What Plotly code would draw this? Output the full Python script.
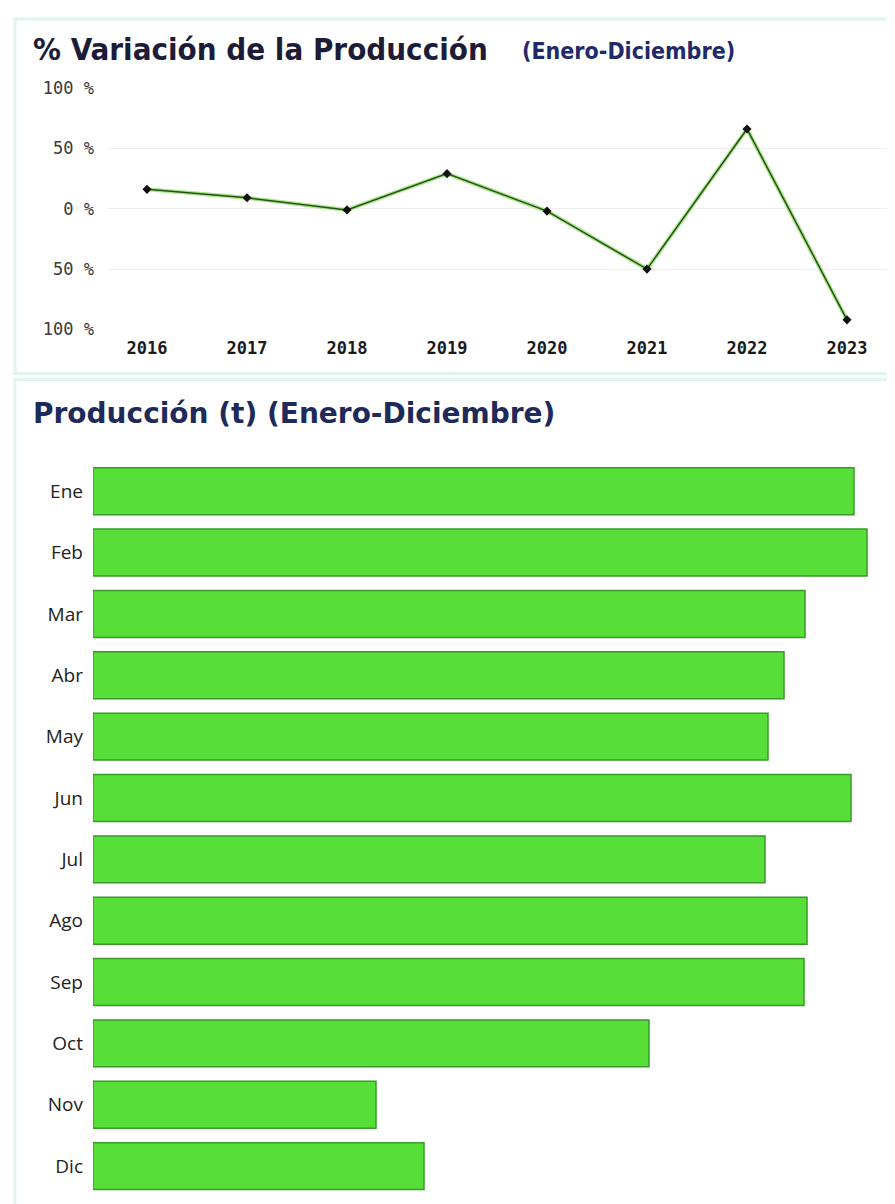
import plotly.graph_objects as go

# ---- data ----
years = ["2016", "2017", "2018", "2019", "2020", "2021", "2022", "2023"]
variation_pct = [16, 9, -1, 29, -2, -50, 66, -92]
y_tick_vals = [100, 50, 0, -50, -100]
y_tick_text = ["100 %", "50 %", "0 %", "50 %", "100 %"]

months = ["Ene", "Feb", "Mar", "Abr", "May", "Jun", "Jul", "Ago", "Sep", "Oct", "Nov", "Dic"]
production_t = [7610, 7740, 7120, 6910, 6750, 7580, 6720, 7140, 7110, 5560, 2830, 3310]

# page placement of the figure (measured): screen_x = 8 + fx ; screen_y = 16 + 0.985 * fy
OFFX = 8
CY, SY = 16.0, 0.985
W, H = 895 - 2 * OFFX, 1206
def px(x): return (x - OFFX) / W
def py(y): return 1 - ((y - CY) / SY) / H

fig = go.Figure()

# Line chart (top)
fig.add_trace(go.Scatter(
    x=years, y=variation_pct, mode="lines", xaxis="x", yaxis="y",
    line=dict(color="#a6e884", width=4), hoverinfo="skip", showlegend=False))
fig.add_trace(go.Scatter(
    x=years, y=variation_pct, mode="lines+markers", xaxis="x", yaxis="y",
    line=dict(color="#2a4f1e", width=1.5),
    marker=dict(symbol="diamond", size=7, color="#111111"),
    showlegend=False))

# Bar chart (bottom)
fig.add_trace(go.Bar(
    x=production_t, y=months, orientation="h", xaxis="x2", yaxis="y2",
    marker=dict(color="#57de38", line=dict(color="#3a9a28", width=1.5)),
    showlegend=False))

# bottom bar axis: category pitch 61.45 px on screen, Ene centred at y=490
pitch = 61.45
screen_bottom = CY + SY * H
cat_bottom = (screen_bottom - 490) / pitch
top_px = 490 - 0.5 * pitch

fig.update_layout(
    width=W, height=H,
    margin=dict(l=0, r=0, t=0, b=0),
    paper_bgcolor="white", plot_bgcolor="white",
    bargap=0.235,
    xaxis=dict(domain=[px(107), px(887)], type="category", range=[-0.4, 7.4],
               showgrid=False, zeroline=False, showline=False, ticks="",
               ticklabelstandoff=7,
               tickfont=dict(family="DejaVu Sans Mono", size=17, color="#1a1a1a", weight="bold"),
               anchor="y"),
    yaxis=dict(domain=[py(328), py(86)], range=[-100, 100],
               tickvals=y_tick_vals, ticktext=y_tick_text,
               showgrid=True, gridcolor="#eeeeee", gridwidth=1, zeroline=False,
               ticklabelstandoff=12,
               tickfont=dict(family="DejaVu Sans Mono", size=17, color="#3a3a3a"),
               anchor="x"),
    xaxis2=dict(domain=[px(93), px(880)], range=[0, 7870], visible=False, anchor="y2"),
    yaxis2=dict(domain=[0, py(top_px)], range=[cat_bottom, -0.5], type="category",
                showgrid=False, zeroline=False, showline=False, ticks="",
                ticklabelstandoff=9,
                tickfont=dict(family="Open Sans", size=19, color="#222222"),
                anchor="x2"),
    shapes=[
        dict(type="rect", xref="paper", yref="paper", x0=px(15), x1=px(890), y0=py(372), y1=py(17),
             line=dict(color="#dff5ec", width=3), fillcolor="rgba(0,0,0,0)", layer="below"),
        dict(type="rect", xref="paper", yref="paper", x0=px(15), x1=px(893), y0=py(1240), y1=py(378),
             line=dict(color="#dff5ec", width=3), fillcolor="rgba(0,0,0,0)", layer="below"),
    ],
    annotations=[
        dict(text="<b>% Variación de la Producción</b>", xref="paper", yref="paper",
             x=px(31), y=py(47), xanchor="left", yanchor="middle", showarrow=False,
             font=dict(family="DejaVu Sans Condensed", size=31, color="#1c1c38")),
        dict(text="<b>(Enero-Diciembre)</b>", xref="paper", yref="paper",
             x=px(520), y=py(49), xanchor="left", yanchor="middle", showarrow=False,
             font=dict(family="DejaVu Sans Condensed", size=23, color="#1e2a6a")),
        dict(text="<b>Producción (t) (Enero-Diciembre)</b>", xref="paper", yref="paper",
             x=px(31), y=py(412), xanchor="left", yanchor="middle", showarrow=False,
             font=dict(family="DejaVu Sans", size=28, color="#1e2a5a")),
    ],
)

fig.write_html("out.html")
